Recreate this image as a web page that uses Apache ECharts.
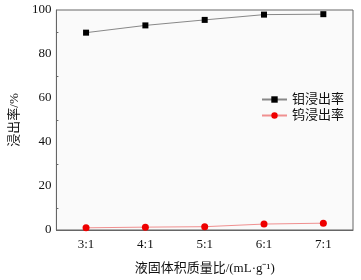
<!DOCTYPE html>
<html><head><meta charset="utf-8">
<script src="https://cdn.jsdelivr.net/npm/echarts@6/dist/echarts.min.js"></script>
<style>html,body{margin:0;padding:0;background:#fff}#c{width:361px;height:280px}</style>
</head><body><div id="c"></div>
<script>
var categories = ['3:1','4:1','5:1','6:1','7:1'];
var moValues = [89.7, 93.0, 95.5, 97.9, 98.1];
var wValues = [1.0, 1.3, 1.5, 2.7, 3.1];
var yTicks = [0, 20, 40, 60, 80, 100];
var seriesNames = ['钼浸出率', '钨浸出率'];
var xTitle = '液固体积质量比/(mL·g⁻¹)';
var yTitle = '浸出率/%';

var font = '"Liberation Serif", "Noto Sans CJK SC", serif';
var chart = echarts.init(document.getElementById('c'));
chart.setOption({
  animation: false,
  backgroundColor: '#fff',
  grid: {left: 49, right: 8, top: 10, bottom: 46, show: true, backgroundColor: '#fafafa', borderColor: '#666', borderWidth: 1},
  legend: {
    orient: 'vertical', left: 256, top: 88, itemGap: 3, itemWidth: 25, itemHeight: 8,
    textStyle: {fontFamily: font, fontSize: 13, color: '#111'},
    data: seriesNames
  },
  xAxis: {
    type: 'category', data: categories, boundaryGap: true,
    name: xTitle, nameLocation: 'middle', nameGap: 32,
    nameTextStyle: {fontFamily: font, fontSize: 13, color: '#111'},
    axisLine: {lineStyle: {color: '#666'}},
    axisTick: {inside: true, length: 4, lineStyle: {color: '#666'}},
    axisLabel: {fontFamily: font, fontSize: 13, color: '#111', margin: 8},
    splitLine: {show: false}
  },
  yAxis: {
    type: 'value', min: 0, max: 100, interval: 20,
    name: yTitle, nameLocation: 'middle', nameGap: 34,
    nameTextStyle: {fontFamily: font, fontSize: 13, color: '#111'},
    axisLine: {show: true, lineStyle: {color: '#666'}},
    axisTick: {inside: true, length: 4, lineStyle: {color: '#666'}},
    minorTick: {show: true, splitNumber: 2, length: 2, lineStyle: {color: '#666'}},
    axisLabel: {fontFamily: font, fontSize: 13, color: '#111', margin: 5,
      formatter: function(v){ return yTicks.indexOf(v) >= 0 ? String(v) : ''; }},
    splitLine: {show: false}
  },
  series: [
    {name: seriesNames[0], type: 'line', data: moValues, symbol: 'rect', symbolSize: 6,
     itemStyle: {color: '#000'}, lineStyle: {color: '#888', width: 1}},
    {name: seriesNames[1], type: 'line', data: wValues, symbol: 'circle', symbolSize: 7,
     itemStyle: {color: '#ee0000'}, lineStyle: {color: '#f09090', width: 1}}
  ]
});
</script></body></html>
